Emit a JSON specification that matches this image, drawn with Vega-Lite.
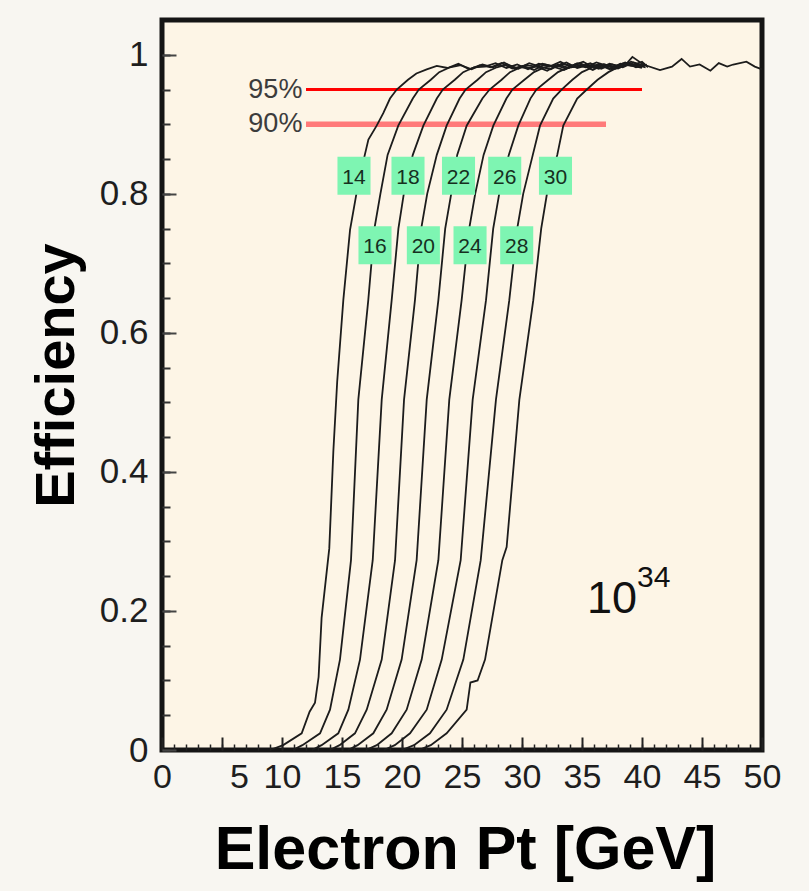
{
  "$schema": "https://vega.github.io/schema/vega-lite/v6.json",
  "width": 600,
  "height": 730,
  "autosize": {"type": "none"},
  "padding": {"left": 162, "top": 20, "right": 47, "bottom": 141},
  "background": "#f8f6f1",
  "config": {
    "view": {"fill": "#fdf5e6", "stroke": "#151515", "strokeWidth": 5},
    "font": "Liberation Sans"
  },
  "datasets": {
    "curves": [
      {"thr": 14, "pt": 9.0, "eff": 0}, {"thr": 14, "pt": 10.1, "eff": 0.007}, {"thr": 14, "pt": 11.64, "eff": 0.024}, {"thr": 14, "pt": 12.3, "eff": 0.055}, {"thr": 14, "pt": 12.75, "eff": 0.068}, {"thr": 14, "pt": 13.05, "eff": 0.105}, {"thr": 14, "pt": 13.3, "eff": 0.19}, {"thr": 14, "pt": 13.94, "eff": 0.29}, {"thr": 14, "pt": 14.28, "eff": 0.43}, {"thr": 14, "pt": 14.6, "eff": 0.53}, {"thr": 14, "pt": 15.11, "eff": 0.647}, {"thr": 14, "pt": 15.67, "eff": 0.748}, {"thr": 14, "pt": 16.2, "eff": 0.8}, {"thr": 14, "pt": 16.9, "eff": 0.856}, {"thr": 14, "pt": 17.2, "eff": 0.878}, {"thr": 14, "pt": 17.89, "eff": 0.898}, {"thr": 14, "pt": 18.44, "eff": 0.916}, {"thr": 14, "pt": 19.0, "eff": 0.937}, {"thr": 14, "pt": 19.56, "eff": 0.95}, {"thr": 14, "pt": 20.5, "eff": 0.964}, {"thr": 14, "pt": 21.2, "eff": 0.973}, {"thr": 14, "pt": 22.06, "eff": 0.979}, {"thr": 14, "pt": 22.9, "eff": 0.984}, {"thr": 14, "pt": 23.8, "eff": 0.981}, {"thr": 14, "pt": 24.7, "eff": 0.987}, {"thr": 14, "pt": 25.6, "eff": 0.979}, {"thr": 14, "pt": 26.5, "eff": 0.985}, {"thr": 14, "pt": 27.4, "eff": 0.982}, {"thr": 14, "pt": 28.3, "eff": 0.988}, {"thr": 14, "pt": 29.2, "eff": 0.98}, {"thr": 14, "pt": 30.1, "eff": 0.984}, {"thr": 14, "pt": 31.0, "eff": 0.978}, {"thr": 14, "pt": 31.9, "eff": 0.986}, {"thr": 14, "pt": 32.8, "eff": 0.983}, {"thr": 14, "pt": 33.7, "eff": 0.989}, {"thr": 14, "pt": 34.6, "eff": 0.981}, {"thr": 14, "pt": 35.5, "eff": 0.985}, {"thr": 14, "pt": 36.4, "eff": 0.98}, {"thr": 14, "pt": 37.3, "eff": 0.987}, {"thr": 14, "pt": 38.2, "eff": 0.983}, {"thr": 14, "pt": 39.1, "eff": 0.99}, {"thr": 14, "pt": 40.0, "eff": 0.984},

      {"thr": 16, "pt": 10.9, "eff": 0}, {"thr": 16, "pt": 11.7, "eff": 0.007}, {"thr": 16, "pt": 13.17, "eff": 0.024}, {"thr": 16, "pt": 14.0, "eff": 0.058}, {"thr": 16, "pt": 14.83, "eff": 0.13}, {"thr": 16, "pt": 15.75, "eff": 0.273}, {"thr": 16, "pt": 16.36, "eff": 0.504}, {"thr": 16, "pt": 17.19, "eff": 0.647}, {"thr": 16, "pt": 17.7, "eff": 0.75}, {"thr": 16, "pt": 18.2, "eff": 0.8}, {"thr": 16, "pt": 18.8, "eff": 0.856}, {"thr": 16, "pt": 19.69, "eff": 0.898}, {"thr": 16, "pt": 20.9, "eff": 0.937}, {"thr": 16, "pt": 21.4, "eff": 0.95}, {"thr": 16, "pt": 22.4, "eff": 0.964}, {"thr": 16, "pt": 23.1, "eff": 0.975}, {"thr": 16, "pt": 24.0, "eff": 0.982}, {"thr": 16, "pt": 24.9, "eff": 0.985}, {"thr": 16, "pt": 25.8, "eff": 0.979}, {"thr": 16, "pt": 26.7, "eff": 0.986}, {"thr": 16, "pt": 27.6, "eff": 0.982}, {"thr": 16, "pt": 28.5, "eff": 0.989}, {"thr": 16, "pt": 29.4, "eff": 0.98}, {"thr": 16, "pt": 30.3, "eff": 0.985}, {"thr": 16, "pt": 31.2, "eff": 0.983}, {"thr": 16, "pt": 32.1, "eff": 0.977}, {"thr": 16, "pt": 33.0, "eff": 0.986}, {"thr": 16, "pt": 33.9, "eff": 0.981}, {"thr": 16, "pt": 34.8, "eff": 0.988}, {"thr": 16, "pt": 35.7, "eff": 0.982}, {"thr": 16, "pt": 36.6, "eff": 0.985}, {"thr": 16, "pt": 37.5, "eff": 0.979}, {"thr": 16, "pt": 38.4, "eff": 0.987}, {"thr": 16, "pt": 39.3, "eff": 0.984}, {"thr": 16, "pt": 40.0, "eff": 0.981},

      {"thr": 18, "pt": 12.5, "eff": 0}, {"thr": 18, "pt": 13.3, "eff": 0.007}, {"thr": 18, "pt": 14.69, "eff": 0.024}, {"thr": 18, "pt": 15.53, "eff": 0.058}, {"thr": 18, "pt": 16.5, "eff": 0.13}, {"thr": 18, "pt": 17.56, "eff": 0.273}, {"thr": 18, "pt": 18.31, "eff": 0.504}, {"thr": 18, "pt": 19.14, "eff": 0.647}, {"thr": 18, "pt": 19.7, "eff": 0.75}, {"thr": 18, "pt": 20.15, "eff": 0.8}, {"thr": 18, "pt": 20.9, "eff": 0.856}, {"thr": 18, "pt": 21.78, "eff": 0.898}, {"thr": 18, "pt": 22.9, "eff": 0.937}, {"thr": 18, "pt": 23.4, "eff": 0.95}, {"thr": 18, "pt": 24.4, "eff": 0.964}, {"thr": 18, "pt": 25.1, "eff": 0.975}, {"thr": 18, "pt": 26.0, "eff": 0.982}, {"thr": 18, "pt": 26.9, "eff": 0.983}, {"thr": 18, "pt": 27.8, "eff": 0.988}, {"thr": 18, "pt": 28.7, "eff": 0.981}, {"thr": 18, "pt": 29.6, "eff": 0.986}, {"thr": 18, "pt": 30.5, "eff": 0.979}, {"thr": 18, "pt": 31.4, "eff": 0.987}, {"thr": 18, "pt": 32.3, "eff": 0.983}, {"thr": 18, "pt": 33.2, "eff": 0.99}, {"thr": 18, "pt": 34.1, "eff": 0.982}, {"thr": 18, "pt": 35.0, "eff": 0.985}, {"thr": 18, "pt": 35.9, "eff": 0.978}, {"thr": 18, "pt": 36.8, "eff": 0.986}, {"thr": 18, "pt": 37.7, "eff": 0.983}, {"thr": 18, "pt": 38.6, "eff": 0.989}, {"thr": 18, "pt": 39.5, "eff": 0.982}, {"thr": 18, "pt": 40.2, "eff": 0.985},

      {"thr": 20, "pt": 14.0, "eff": 0}, {"thr": 20, "pt": 14.8, "eff": 0.007}, {"thr": 20, "pt": 16.08, "eff": 0.024}, {"thr": 20, "pt": 17.06, "eff": 0.058}, {"thr": 20, "pt": 18.31, "eff": 0.13}, {"thr": 20, "pt": 19.42, "eff": 0.273}, {"thr": 20, "pt": 20.17, "eff": 0.504}, {"thr": 20, "pt": 21.08, "eff": 0.647}, {"thr": 20, "pt": 21.6, "eff": 0.75}, {"thr": 20, "pt": 22.1, "eff": 0.8}, {"thr": 20, "pt": 22.9, "eff": 0.856}, {"thr": 20, "pt": 23.72, "eff": 0.898}, {"thr": 20, "pt": 24.8, "eff": 0.937}, {"thr": 20, "pt": 25.3, "eff": 0.95}, {"thr": 20, "pt": 26.3, "eff": 0.964}, {"thr": 20, "pt": 27.0, "eff": 0.975}, {"thr": 20, "pt": 27.9, "eff": 0.982}, {"thr": 20, "pt": 28.8, "eff": 0.986}, {"thr": 20, "pt": 29.7, "eff": 0.98}, {"thr": 20, "pt": 30.6, "eff": 0.988}, {"thr": 20, "pt": 31.5, "eff": 0.983}, {"thr": 20, "pt": 32.4, "eff": 0.979}, {"thr": 20, "pt": 33.3, "eff": 0.987}, {"thr": 20, "pt": 34.2, "eff": 0.984}, {"thr": 20, "pt": 35.1, "eff": 0.99}, {"thr": 20, "pt": 36.0, "eff": 0.981}, {"thr": 20, "pt": 36.9, "eff": 0.986}, {"thr": 20, "pt": 37.8, "eff": 0.98}, {"thr": 20, "pt": 38.7, "eff": 0.988}, {"thr": 20, "pt": 39.6, "eff": 0.985}, {"thr": 20, "pt": 40.3, "eff": 0.982},

      {"thr": 22, "pt": 15.5, "eff": 0}, {"thr": 22, "pt": 16.3, "eff": 0.007}, {"thr": 22, "pt": 17.61, "eff": 0.024}, {"thr": 22, "pt": 18.72, "eff": 0.058}, {"thr": 22, "pt": 19.97, "eff": 0.13}, {"thr": 22, "pt": 21.22, "eff": 0.273}, {"thr": 22, "pt": 22.06, "eff": 0.504}, {"thr": 22, "pt": 23.03, "eff": 0.647}, {"thr": 22, "pt": 23.6, "eff": 0.75}, {"thr": 22, "pt": 24.1, "eff": 0.8}, {"thr": 22, "pt": 24.6, "eff": 0.856}, {"thr": 22, "pt": 25.39, "eff": 0.898}, {"thr": 22, "pt": 26.7, "eff": 0.937}, {"thr": 22, "pt": 27.3, "eff": 0.95}, {"thr": 22, "pt": 28.3, "eff": 0.964}, {"thr": 22, "pt": 29.0, "eff": 0.975}, {"thr": 22, "pt": 29.9, "eff": 0.982}, {"thr": 22, "pt": 30.8, "eff": 0.981}, {"thr": 22, "pt": 31.7, "eff": 0.987}, {"thr": 22, "pt": 32.6, "eff": 0.983}, {"thr": 22, "pt": 33.5, "eff": 0.978}, {"thr": 22, "pt": 34.4, "eff": 0.986}, {"thr": 22, "pt": 35.3, "eff": 0.982}, {"thr": 22, "pt": 36.2, "eff": 0.989}, {"thr": 22, "pt": 37.1, "eff": 0.984}, {"thr": 22, "pt": 38.0, "eff": 0.98}, {"thr": 22, "pt": 38.9, "eff": 0.987}, {"thr": 22, "pt": 39.8, "eff": 0.983}, {"thr": 22, "pt": 40.4, "eff": 0.986},

      {"thr": 24, "pt": 17.0, "eff": 0}, {"thr": 24, "pt": 17.9, "eff": 0.007}, {"thr": 24, "pt": 19.14, "eff": 0.024}, {"thr": 24, "pt": 20.39, "eff": 0.058}, {"thr": 24, "pt": 21.64, "eff": 0.13}, {"thr": 24, "pt": 23.03, "eff": 0.273}, {"thr": 24, "pt": 23.94, "eff": 0.504}, {"thr": 24, "pt": 24.97, "eff": 0.647}, {"thr": 24, "pt": 25.6, "eff": 0.75}, {"thr": 24, "pt": 26.1, "eff": 0.8}, {"thr": 24, "pt": 26.8, "eff": 0.856}, {"thr": 24, "pt": 27.61, "eff": 0.898}, {"thr": 24, "pt": 28.7, "eff": 0.937}, {"thr": 24, "pt": 29.2, "eff": 0.95}, {"thr": 24, "pt": 30.2, "eff": 0.964}, {"thr": 24, "pt": 31.0, "eff": 0.975}, {"thr": 24, "pt": 31.9, "eff": 0.982}, {"thr": 24, "pt": 32.8, "eff": 0.985}, {"thr": 24, "pt": 33.7, "eff": 0.98}, {"thr": 24, "pt": 34.6, "eff": 0.988}, {"thr": 24, "pt": 35.5, "eff": 0.983}, {"thr": 24, "pt": 36.4, "eff": 0.986}, {"thr": 24, "pt": 37.3, "eff": 0.979}, {"thr": 24, "pt": 38.2, "eff": 0.987}, {"thr": 24, "pt": 39.1, "eff": 0.984}, {"thr": 24, "pt": 40.0, "eff": 0.99}, {"thr": 24, "pt": 40.5, "eff": 0.982},

      {"thr": 26, "pt": 18.5, "eff": 0}, {"thr": 26, "pt": 19.4, "eff": 0.007}, {"thr": 26, "pt": 20.67, "eff": 0.024}, {"thr": 26, "pt": 22.06, "eff": 0.058}, {"thr": 26, "pt": 23.31, "eff": 0.13}, {"thr": 26, "pt": 24.89, "eff": 0.273}, {"thr": 26, "pt": 25.89, "eff": 0.504}, {"thr": 26, "pt": 27.0, "eff": 0.647}, {"thr": 26, "pt": 27.6, "eff": 0.75}, {"thr": 26, "pt": 28.1, "eff": 0.8}, {"thr": 26, "pt": 28.9, "eff": 0.856}, {"thr": 26, "pt": 29.69, "eff": 0.898}, {"thr": 26, "pt": 30.7, "eff": 0.937}, {"thr": 26, "pt": 31.2, "eff": 0.95}, {"thr": 26, "pt": 32.2, "eff": 0.964}, {"thr": 26, "pt": 33.0, "eff": 0.975}, {"thr": 26, "pt": 33.9, "eff": 0.982}, {"thr": 26, "pt": 34.8, "eff": 0.983}, {"thr": 26, "pt": 35.7, "eff": 0.988}, {"thr": 26, "pt": 36.6, "eff": 0.98}, {"thr": 26, "pt": 37.5, "eff": 0.986}, {"thr": 26, "pt": 38.4, "eff": 0.982}, {"thr": 26, "pt": 39.3, "eff": 0.989}, {"thr": 26, "pt": 40.2, "eff": 0.984},

      {"thr": 28, "pt": 20.0, "eff": 0}, {"thr": 28, "pt": 21.0, "eff": 0.007}, {"thr": 28, "pt": 22.33, "eff": 0.024}, {"thr": 28, "pt": 23.72, "eff": 0.058}, {"thr": 28, "pt": 25.11, "eff": 0.13}, {"thr": 28, "pt": 26.56, "eff": 0.273}, {"thr": 28, "pt": 27.83, "eff": 0.504}, {"thr": 28, "pt": 28.94, "eff": 0.647}, {"thr": 28, "pt": 29.6, "eff": 0.75}, {"thr": 28, "pt": 30.1, "eff": 0.8}, {"thr": 28, "pt": 30.9, "eff": 0.856}, {"thr": 28, "pt": 31.5, "eff": 0.898}, {"thr": 28, "pt": 32.6, "eff": 0.937}, {"thr": 28, "pt": 33.3, "eff": 0.95}, {"thr": 28, "pt": 34.2, "eff": 0.964}, {"thr": 28, "pt": 35.0, "eff": 0.975}, {"thr": 28, "pt": 35.9, "eff": 0.982}, {"thr": 28, "pt": 36.8, "eff": 0.986}, {"thr": 28, "pt": 37.7, "eff": 0.981}, {"thr": 28, "pt": 38.6, "eff": 0.988}, {"thr": 28, "pt": 39.5, "eff": 0.983}, {"thr": 28, "pt": 40.3, "eff": 0.985},

      {"thr": 30, "pt": 21.4, "eff": 0}, {"thr": 30, "pt": 22.4, "eff": 0.007}, {"thr": 30, "pt": 23.72, "eff": 0.024}, {"thr": 30, "pt": 25.39, "eff": 0.058}, {"thr": 30, "pt": 25.7, "eff": 0.097}, {"thr": 30, "pt": 26.3, "eff": 0.1}, {"thr": 30, "pt": 26.92, "eff": 0.13}, {"thr": 30, "pt": 28.36, "eff": 0.273}, {"thr": 30, "pt": 28.72, "eff": 0.292}, {"thr": 30, "pt": 29.78, "eff": 0.504}, {"thr": 30, "pt": 30.94, "eff": 0.647}, {"thr": 30, "pt": 31.6, "eff": 0.75}, {"thr": 30, "pt": 32.08, "eff": 0.8}, {"thr": 30, "pt": 32.94, "eff": 0.856}, {"thr": 30, "pt": 33.44, "eff": 0.898}, {"thr": 30, "pt": 34.6, "eff": 0.937}, {"thr": 30, "pt": 35.4, "eff": 0.95}, {"thr": 30, "pt": 36.3, "eff": 0.964}, {"thr": 30, "pt": 37.2, "eff": 0.975}, {"thr": 30, "pt": 38.0, "eff": 0.982}, {"thr": 30, "pt": 38.7, "eff": 0.987}, {"thr": 30, "pt": 39.2, "eff": 0.997}, {"thr": 30, "pt": 40.1, "eff": 0.986}, {"thr": 30, "pt": 41.5, "eff": 0.978}, {"thr": 30, "pt": 42.5, "eff": 0.983}, {"thr": 30, "pt": 43.3, "eff": 0.994}, {"thr": 30, "pt": 44.0, "eff": 0.983}, {"thr": 30, "pt": 44.8, "eff": 0.986}, {"thr": 30, "pt": 45.7, "eff": 0.977}, {"thr": 30, "pt": 46.4, "eff": 0.988}, {"thr": 30, "pt": 47.1, "eff": 0.983}, {"thr": 30, "pt": 47.6, "eff": 0.986}, {"thr": 30, "pt": 48.7, "eff": 0.99}, {"thr": 30, "pt": 49.4, "eff": 0.983}, {"thr": 30, "pt": 50.0, "eff": 0.979}
    ],
    "boxes": [
      {"thr": "14", "pt": 16.0, "eff": 0.826}, {"thr": "16", "pt": 17.75, "eff": 0.726},
      {"thr": "18", "pt": 20.5, "eff": 0.826}, {"thr": "20", "pt": 21.78, "eff": 0.726},
      {"thr": "22", "pt": 24.71, "eff": 0.826}, {"thr": "24", "pt": 25.67, "eff": 0.726},
      {"thr": "26", "pt": 28.56, "eff": 0.826}, {"thr": "28", "pt": 29.56, "eff": 0.726},
      {"thr": "30", "pt": 32.79, "eff": 0.826}
    ]
  },
  "layer": [
    {
      "data": {"values": [{"start": 12, "end": 40, "level": 0.95}]},
      "mark": {"type": "rule", "color": "#ff0000", "strokeWidth": 3},
      "encoding": {
        "x": {"field": "start", "type": "quantitative", "scale": {"domain": [0, 50], "nice": false, "zero": false},
          "axis": {"orient": "bottom", "values": [0,1,2,3,4,5,6,7,8,9,10,11,12,13,14,15,16,17,18,19,20,21,22,23,24,25,26,27,28,29,30,31,32,33,34,35,36,37,38,39,40,41,42,43,44,45,46,47,48,49,50],
            "tickSize": -6, "tickWidth": 1.5, "tickColor": "#222", "labels": false, "domain": false, "grid": false, "title": null}},
        "x2": {"field": "end"},
        "y": {"field": "level", "type": "quantitative", "scale": {"domain": [0, 1.05], "nice": false, "zero": false},
          "axis": {"orient": "left", "values": [0,0.05,0.1,0.15,0.2,0.25,0.3,0.35,0.4,0.45,0.5,0.55,0.6,0.65,0.7,0.75,0.8,0.85,0.9,0.95,1],
            "tickSize": -8, "tickWidth": 2, "tickColor": "#333", "labels": false, "domain": false, "grid": false, "title": null}}
      }
    },
    {
      "data": {"values": [{"start": 12, "end": 37, "level": 0.9}]},
      "mark": {"type": "rule", "color": "#ff7a7a", "strokeWidth": 5.5},
      "encoding": {
        "x": {"field": "start", "type": "quantitative", "axis": null},
        "x2": {"field": "end"},
        "y": {"field": "level", "type": "quantitative", "axis": null}
      }
    },
    {
      "data": {"name": "curves"},
      "mark": {"type": "line", "color": "#1c1c1c", "strokeWidth": 1.8},
      "encoding": {
        "x": {"field": "pt", "type": "quantitative",
          "axis": {"orient": "bottom", "values": [0,5,10,15,20,25,30,35,40,45,50], "format": "d",
            "tickSize": -13, "tickWidth": 2, "tickColor": "#222", "domain": false, "grid": false,
            "labelFont": "Liberation Sans", "labelFontSize": 34, "labelColor": "#1e1e1e", "labelPadding": 23,
            "labelFlush": false, "labelOverlap": false,
            "labelOffset": {"condition": {"test": "datum.value === 5", "value": 17}, "value": 0},
            "title": "Electron Pt [GeV]", "titleFont": "Liberation Sans", "titleFontWeight": "bold", "titleFontSize": 61,
            "titleColor": "#000", "titleX": 303, "titleY": 118, "titleBaseline": "alphabetic", "titleAlign": "center"}},
        "y": {"field": "eff", "type": "quantitative",
          "axis": {"orient": "left", "values": [0,0.2,0.4,0.6,0.8,1], "format": "~g",
            "tickSize": -14, "tickWidth": 2, "tickColor": "#444", "domain": false, "grid": false,
            "labelFont": "Liberation Sans", "labelFontSize": 35, "labelColor": "#1e1e1e", "labelPadding": 28,
            "labelFlush": false, "labelOverlap": false,
            "title": "Efficiency", "titleFont": "Liberation Sans", "titleFontWeight": "bold", "titleFontSize": 56,
            "titleColor": "#000", "titleX": -89, "titleY": 355, "titleBaseline": "alphabetic", "titleAlign": "center", "titleAngle": -90}},
        "detail": {"field": "thr", "type": "nominal"}
      }
    },
    {
      "data": {"values": [{"label": "95%", "pt": 11.7, "level": 0.95}, {"label": "90%", "pt": 11.7, "level": 0.9}]},
      "mark": {"type": "text", "align": "right", "baseline": "middle", "fontSize": 27, "color": "#3c3c3c", "font": "Liberation Sans"},
      "encoding": {
        "x": {"field": "pt", "type": "quantitative", "axis": null},
        "y": {"field": "level", "type": "quantitative", "axis": null},
        "text": {"field": "label"}
      }
    },
    {
      "data": {"name": "boxes"},
      "mark": {"type": "point", "shape": "M-0.87,-1H0.87V1H-0.87Z", "size": 1444, "filled": true, "color": "#7ef5b2", "opacity": 1},
      "encoding": {
        "x": {"field": "pt", "type": "quantitative", "axis": null},
        "y": {"field": "eff", "type": "quantitative", "axis": null}
      }
    },
    {
      "data": {"name": "boxes"},
      "mark": {"type": "text", "align": "center", "baseline": "middle", "fontSize": 21, "color": "#16301f", "font": "Liberation Sans", "dy": 2},
      "encoding": {
        "x": {"field": "pt", "type": "quantitative", "axis": null},
        "y": {"field": "eff", "type": "quantitative", "axis": null},
        "text": {"field": "thr"}
      }
    },
    {
      "data": {"values": [{"txt": "10", "pt": 35.42, "eff": 0.197}]},
      "mark": {"type": "text", "align": "left", "baseline": "alphabetic", "fontSize": 45, "color": "#111", "font": "Liberation Sans"},
      "encoding": {
        "x": {"field": "pt", "type": "quantitative", "axis": null},
        "y": {"field": "eff", "type": "quantitative", "axis": null},
        "text": {"field": "txt"}
      }
    },
    {
      "data": {"values": [{"txt": "34", "pt": 39.58, "eff": 0.235}]},
      "mark": {"type": "text", "align": "left", "baseline": "alphabetic", "fontSize": 30, "color": "#111", "font": "Liberation Sans"},
      "encoding": {
        "x": {"field": "pt", "type": "quantitative", "axis": null},
        "y": {"field": "eff", "type": "quantitative", "axis": null},
        "text": {"field": "txt"}
      }
    }
  ],
  "resolve": {"axis": {"x": "independent", "y": "independent"}}
}
